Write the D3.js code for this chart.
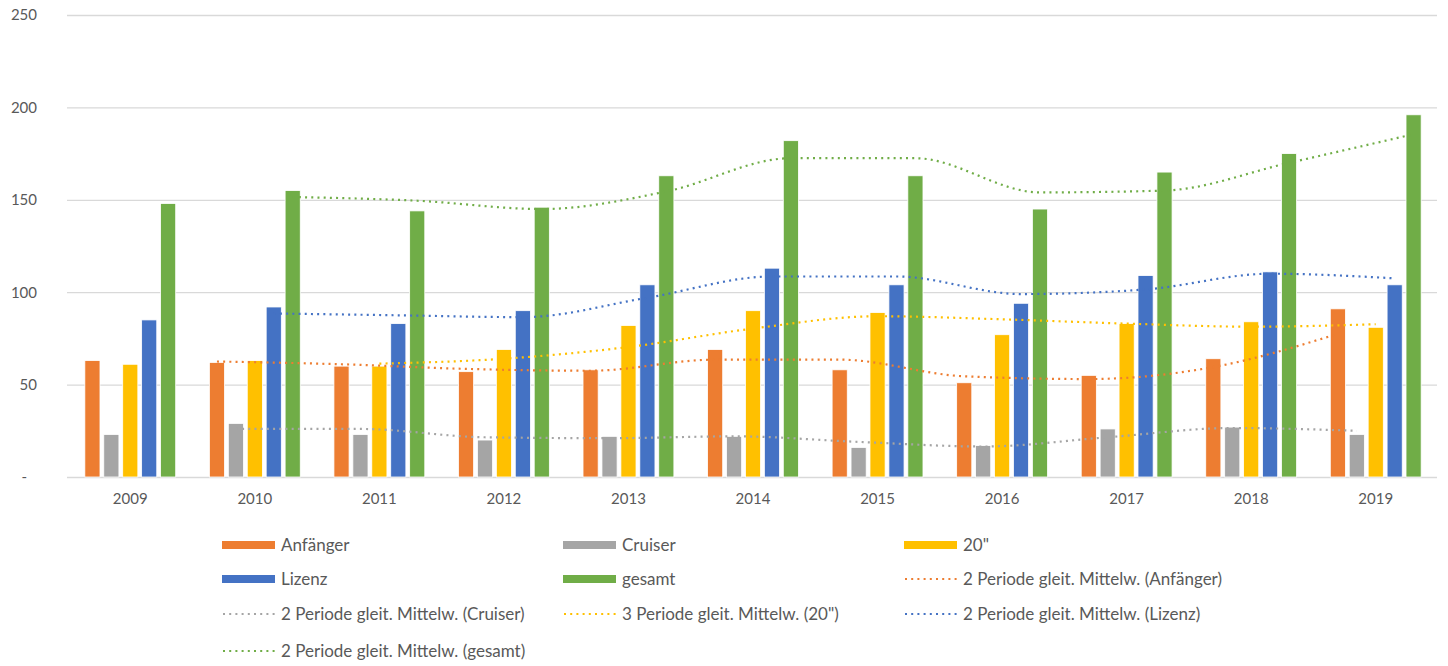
<!DOCTYPE html>
<html lang="de">

<head>
  <meta charset="UTF-8">
  <title>Lizenzen</title>
  <style>
    body { margin: 0; background: #fff; }
    text { font-family: Lato, "Noto Sans", sans-serif; fill: #595959; }
    .gridlines line { stroke: #d9d9d9; stroke-width: 1.3; }
    .gridlines path, .axis path, .axis line { display: none; }
  </style>
  <script src="https://d3js.org/d3.v7.min.js"></script>
</head>

<body>
  <svg id="chart" width="1448" height="666"></svg>
  <script>
    const years = [2009, 2010, 2011, 2012, 2013, 2014, 2015, 2016, 2017, 2018, 2019];
    const anfaenger = [63, 62, 60, 57, 58, 69, 58, 51, 55, 64, 91];
    const cruiser = [23, 29, 23, 20, 22, 22, 16, 17, 26, 27, 23];
    const zwanzig = [61, 63, 60, 69, 82, 90, 89, 77, 83, 84, 81];
    const lizenz = [85, 92, 83, 90, 104, 113, 104, 94, 109, 111, 104];
    const gesamt = [148, 155, 144, 146, 163, 182, 163, 145, 165, 175, 196];
    const yTicks = [0, 50, 100, 150, 200, 250];

    const series = [
      { key: "Anfänger", values: anfaenger, color: "#ED7D31", period: 2 },
      { key: "Cruiser", values: cruiser, color: "#A5A5A5", period: 2 },
      { key: "20\"", values: zwanzig, color: "#FFC000", period: 3 },
      { key: "Lizenz", values: lizenz, color: "#4472C4", period: 2 },
      { key: "gesamt", values: gesamt, color: "#70AD47", period: 2 }
    ];

    const svg = d3.select("svg#chart");
    const margins = { top: 15, left: 68, right: 10, bottom: 189 };
    const chartWidth = 1438 - margins.left;
    const chartHeight = 477 - margins.top;
    const chartArea = svg.append("g")
      .attr("transform", `translate(${margins.left},${margins.top})`);

    const yScale = d3.scaleLinear().domain([0, 250]).range([chartHeight, 0]);
    const x0 = d3.scaleBand().domain(years).range([0, chartWidth])
      .paddingInner(0.24).paddingOuter(0.12);
    const x1 = d3.scaleBand().domain(series.map(s => s.key)).range([0, x0.bandwidth()])
      .paddingInner(0.2).paddingOuter(0.1);

    // gridlines
    chartArea.append("g")
      .attr("class", "gridlines")
      .attr("transform", "translate(-1,0)")
      .call(d3.axisLeft(yScale).tickValues(yTicks).tickSize(-chartWidth).tickFormat(""));

    // y labels
    const leftAxis = chartArea.append("g")
      .attr("class", "axis")
      .call(d3.axisLeft(yScale).tickValues(yTicks).tickSize(0).tickPadding(31)
        .tickFormat(d => d === 0 ? "-" : d));
    leftAxis.selectAll("text")
      .style("font-size", "15px")
      .attr("dx", d => d === 0 ? -10 : 0);

    // x labels
    const bottomAxis = chartArea.append("g")
      .attr("class", "axis")
      .attr("transform", `translate(0,${chartHeight})`)
      .call(d3.axisBottom(x0).tickSize(0).tickPadding(16));
    bottomAxis.selectAll("text").style("font-size", "15px");

    // bars
    series.forEach(s => {
      chartArea.append("g").selectAll("rect")
        .data(years)
        .join("rect")
        .attr("x", (d, i) => x0(d) + x1(s.key))
        .attr("width", x1.bandwidth())
        .attr("y", (d, i) => yScale(s.values[i]))
        .attr("height", (d, i) => chartHeight - yScale(s.values[i]))
        .attr("fill", s.color)
        .attr("stroke", "#fff")
        .attr("stroke-width", 0.8);
    });

    // moving average trendlines
    const movingAvg = (vals, n) => vals.map((v, i) => i < n - 1 ? null : d3.mean(vals.slice(i - n + 1, i + 1)));
    series.forEach(s => {
      const ma = movingAvg(s.values, s.period);
      const pts = years.map((y, i) => [x0(y) + x1(s.key) + x1.bandwidth() / 2, ma[i]])
        .filter(p => p[1] !== null);
      chartArea.append("path")
        .datum(pts)
        .attr("fill", "none")
        .attr("stroke", s.color)
        .attr("stroke-width", 2.2)
        .attr("stroke-dasharray", "2 4.2")
        .attr("d", d3.line().x(p => p[0]).y(p => yScale(p[1])).curve(d3.curveMonotoneX));
    });

    // legend
    const legendItems = series.map(s => ({ label: s.key, color: s.color, type: "bar" }))
      .concat(series.map(s => ({
        label: `${s.period} Periode gleit. Mittelw. (${s.key})`, color: s.color, type: "line"
      })));
    const colX = [222, 563, 904];
    const rowY = [545, 579, 614, 651];
    const legend = svg.append("g");
    legendItems.forEach((item, i) => {
      const x = colX[i % 3];
      const y = rowY[Math.floor(i / 3)];
      if (item.type === "bar") {
        legend.append("rect")
          .attr("x", x).attr("y", y - 4).attr("width", 53).attr("height", 8)
          .attr("fill", item.color);
      } else {
        legend.append("line")
          .attr("x1", x + 1).attr("x2", x + 53).attr("y1", y).attr("y2", y)
          .attr("stroke", item.color).attr("stroke-width", 2.2)
          .attr("stroke-dasharray", "2 4.2");
      }
      legend.append("text")
        .attr("x", x + 59).attr("y", y)
        .attr("dy", "0.35em")
        .style("font-size", "17px")
        .text(item.label);
    });
  </script>
</body>

</html>
